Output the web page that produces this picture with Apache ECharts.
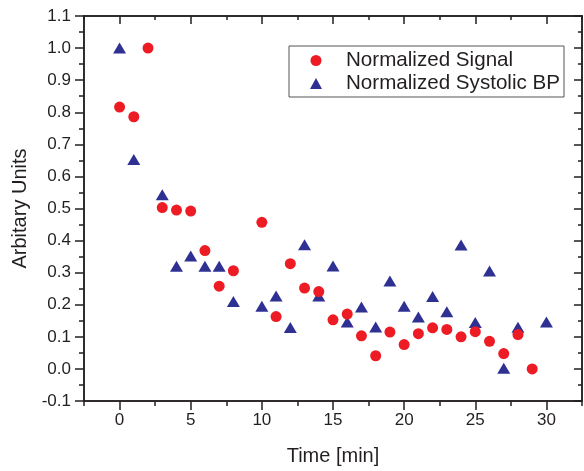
<!DOCTYPE html>
<html>
<head>
<meta charset="utf-8">
<script src="https://cdn.jsdelivr.net/npm/echarts@6/dist/echarts.min.js"></script>
<style>
html,body{margin:0;padding:0;background:#fff;}
#chart{width:584px;height:471px;}
</style>
</head>
<body>
<div id="chart"></div>
<script>
// ---- data ----
const signalTime = [0,1,2,3,4,5,6,7,8,10,11,12,13,14,15,16,17,18,19,20,21,22,23,24,25,26,27,28,29];
const signalValues = [0.816,0.786,1.0,0.503,0.495,0.492,0.369,0.258,0.306,0.457,0.163,0.328,0.252,0.241,0.153,0.171,0.103,0.041,0.115,0.076,0.110,0.128,0.123,0.100,0.116,0.086,0.048,0.107,0.0];
const bpTime = [0,1,3,4,5,6,7,8,10,11,12,13,14,15,16,17,18,19,20,21,22,23,24,25,26,27,28,30];
const bpValues = [1.0,0.653,0.543,0.320,0.352,0.320,0.320,0.210,0.195,0.227,0.129,0.387,0.227,0.321,0.146,0.193,0.131,0.274,0.195,0.162,0.226,0.178,0.386,0.145,0.305,0.002,0.130,0.146];
const xTickLabels = [0,5,10,15,20,25,30];
const xMinorTicks = [-2.5,2.5,7.5,12.5,17.5,22.5,27.5,32.5];
const yTickLabels = [-0.1,0.0,0.1,0.2,0.3,0.4,0.5,0.6,0.7,0.8,0.9,1.0,1.1];
const yMinorTicks = [-0.05,0.05,0.15,0.25,0.35,0.45,0.55,0.65,0.75,0.85,0.95,1.05];
const seriesNames = ['Normalized Signal','Normalized Systolic BP'];

const signalData = signalTime.map((t,i)=>[t, signalValues[i]]);
const bpData = bpTime.map((t,i)=>[t, bpValues[i]]);

const FONT = '"Liberation Sans", Arial, sans-serif';
const AX = '#231f20';
const RED = '#ed1c24';
const BLUE = '#2e3192';
const XMIN = -2.5, XMAX = 32.5, YMIN = -0.1, YMAX = 1.1;

function xAx(pos, ticks, len, inside, extra) {
  return Object.assign({
    type:'value', position:pos, min:XMIN, max:XMAX,
    axisLine:{show:true, onZero:false, lineStyle:{color:AX, width:1.5}},
    axisTick:{show:true, inside:inside, length:len, customValues:ticks, lineStyle:{color:AX, width:1.5}},
    axisLabel:{show:false},
    splitLine:{show:false}
  }, extra||{});
}
function yAx(pos, ticks, len, inside, extra) {
  return Object.assign({
    type:'value', position:pos, min:YMIN, max:YMAX,
    axisLine:{show:true, onZero:false, lineStyle:{color:AX, width:1.5}},
    axisTick:{show:true, inside:inside, length:len, customValues:ticks, lineStyle:{color:AX, width:1.5}},
    axisLabel:{show:false},
    splitLine:{show:false}
  }, extra||{});
}

const chart = echarts.init(document.getElementById('chart'), null, {renderer:'canvas'});
chart.setOption({
  animation:false,
  backgroundColor:'#fff',
  textStyle:{fontFamily:FONT},
  grid:{left:84, top:16, width:498, height:387, containLabel:false},
  legend:{
    show:true, orient:'vertical', left:289, top:46,
    padding:[4,4,3,21], itemGap:2, itemWidth:12, itemHeight:11,
    borderColor:'#555', borderWidth:1, backgroundColor:'#fff',
    textStyle:{fontFamily:FONT, fontSize:20.6, color:'#231f20', padding:[0,0,0,19]},
    data:[{name:seriesNames[0], icon:'circle'},{name:seriesNames[1], icon:'triangle'}]
  },
  xAxis:[
    xAx('bottom', xTickLabels, 9, false, {
      name:'Time [min]', nameLocation:'middle', nameGap:45,
      nameTextStyle:{fontFamily:FONT, fontSize:20, color:'#231f20'},
      axisLabel:{show:true, customValues:xTickLabels, margin:11, fontFamily:FONT, fontSize:17, color:'#231f20'}
    }),
    xAx('bottom', xMinorTicks, 5, false),
    xAx('top', xTickLabels, 8, true),
    xAx('top', xMinorTicks, 4, true)
  ],
  yAxis:[
    yAx('left', yTickLabels, 9, false, {
      name:'Arbitary Units', nameLocation:'middle', nameGap:54,
      nameTextStyle:{fontFamily:FONT, fontSize:20, color:'#231f20'},
      axisLabel:{show:true, customValues:yTickLabels, margin:13, fontFamily:FONT, fontSize:17, color:'#231f20',
        formatter:v=>v.toFixed(1)}
    }),
    yAx('left', yMinorTicks, 5, false),
    yAx('right', yTickLabels, 8, true),
    yAx('right', yMinorTicks, 4, true)
  ],
  series:[
    {name:seriesNames[1], type:'scatter', xAxisIndex:0, yAxisIndex:0, data:bpData,
     symbol:'triangle', symbolSize:[13,11], itemStyle:{color:BLUE, opacity:1}, z:2},
    {name:seriesNames[0], type:'scatter', xAxisIndex:0, yAxisIndex:0, data:signalData,
     symbol:'circle', symbolSize:11, itemStyle:{color:RED, opacity:1}, z:3}
  ]
});
</script>
</body>
</html>
